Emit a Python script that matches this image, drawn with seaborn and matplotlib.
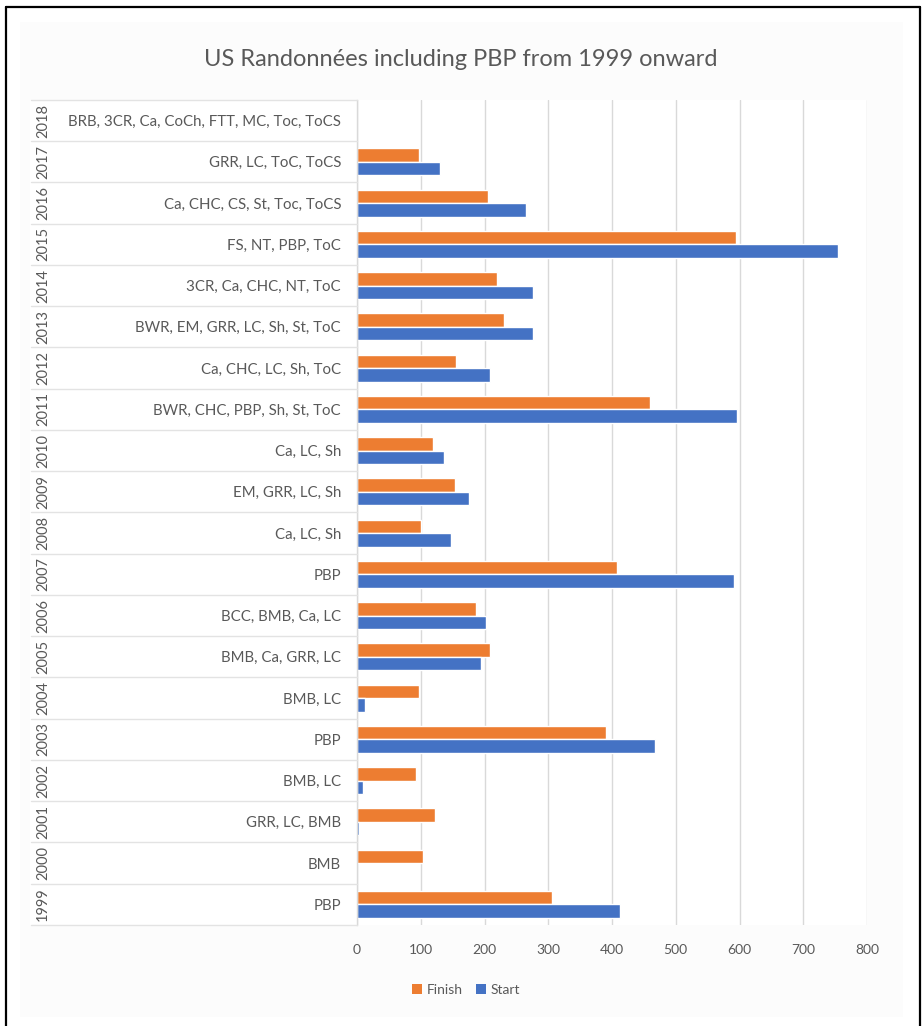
import matplotlib
matplotlib.use("Agg")
import matplotlib.pyplot as plt
from matplotlib.lines import Line2D
from matplotlib.patches import Rectangle, Patch
from matplotlib.transforms import blended_transform_factory
import seaborn as sns
import pandas as pd

# Randonnée seasons, newest first (top of the chart)
years = ["2018", "2017", "2016", "2015", "2014", "2013", "2012", "2011", "2010",
         "2009", "2008", "2007", "2006", "2005", "2004", "2003", "2002", "2001",
         "2000", "1999"]
events = [
    "BRB, 3CR, Ca, CoCh, FTT, MC, Toc, ToCS",
    "GRR, LC, ToC, ToCS",
    "Ca, CHC, CS, St, Toc, ToCS",
    "FS, NT, PBP, ToC",
    "3CR, Ca, CHC, NT, ToC",
    "BWR, EM, GRR, LC, Sh, St, ToC",
    "Ca, CHC, LC, Sh, ToC",
    "BWR, CHC, PBP, Sh, St, ToC",
    "Ca, LC, Sh",
    "EM, GRR, LC, Sh",
    "Ca, LC, Sh",
    "PBP",
    "BCC, BMB, Ca, LC",
    "BMB, Ca, GRR, LC",
    "BMB, LC",
    "PBP",
    "BMB, LC",
    "GRR, LC, BMB",
    "BMB",
    "PBP",
]
finish = [0, 98, 206, 595, 220, 230, 156, 460, 119, 154, 101, 408, 186, 208,
          98, 391, 93, 122, 103, 306]
start = [0, 130, 265, 755, 276, 276, 208, 596, 137, 176, 147, 591, 203, 194,
         13, 467, 10, 3, 0, 412]
series = ["Finish", "Start"]
colors = {"Finish": "#ED7D31", "Start": "#4472C4"}
x_ticks = [0, 100, 200, 300, 400, 500, 600, 700, 800]
title = "US Randonnées including PBP from 1999 onward"

keys = [f"{y}|{e}" for y, e in zip(years, events)]
df = pd.DataFrame({
    "key": keys * 2,
    "series": ["Finish"] * len(keys) + ["Start"] * len(keys),
    "value": finish + start,
})

sns.set_theme(style="white")
plt.rcParams["font.family"] = ["Lato", "DejaVu Sans"]
TXT = "#595959"
GRID = "#D9D9D9"

W, H = 922, 1026
fig = plt.figure(figsize=(W / 100, H / 100), dpi=100)
fig.patch.set_facecolor("white")

# light chart-area panel and outer frame
fig.add_artist(Rectangle((20 / W, 1 - 1017 / H), 883 / W, 995 / H,
                         transform=fig.transFigure, facecolor="#FCFCFC",
                         edgecolor="none", zorder=0))
fig.add_artist(Rectangle((30 / W, 1 - 925 / H), 327 / W, 825 / H,
                         transform=fig.transFigure, facecolor="white",
                         edgecolor="none", zorder=0))
for xs, ys in [([6, 6], [7, 1030]), ([6, 920], [7, 7]), ([920, 920], [7, 1030])]:
    fig.add_artist(Line2D([x / W for x in xs], [1 - y / H for y in ys],
                          transform=fig.transFigure, color="black", lw=1.6,
                          zorder=1))

ax = fig.add_axes([357 / W, 1 - 925 / H, (867 - 357) / W, (925 - 100) / H])
ax.set_facecolor("white")
sns.barplot(data=df, x="value", y="key", hue="series", hue_order=series,
            order=keys, orient="h", palette=colors, width=0.66,
            saturation=1, ax=ax, legend=False, zorder=3)

ax.set_xlim(0, 800)
ax.set_ylim(len(keys) - 0.5, -0.5)
ax.set_xticks(x_ticks)
ax.set_xticklabels([str(t) for t in x_ticks], fontsize=10, color=TXT)
ax.tick_params(axis="x", length=0, pad=14)
ax.set_yticks(range(len(keys)))
ax.set_yticklabels(events, fontsize=10.8, color=TXT)
ax.tick_params(axis="y", length=0, pad=11.5)
ax.set_xlabel("")
ax.set_ylabel("")
ax.grid(axis="x", color=GRID, lw=1, zorder=0)
ax.grid(axis="y", visible=False)
for side in ["top", "right", "bottom"]:
    ax.spines[side].set_visible(False)
ax.spines["left"].set_color(GRID)
ax.spines["left"].set_linewidth(1)
ax.spines["left"].set_zorder(4)

# multi-level category table: row separators and rotated year labels
tr = blended_transform_factory(fig.transFigure, ax.transData)
for i in range(len(keys) + 1):
    fig.add_artist(Line2D([31 / W, 357 / W], [i - 0.5, i - 0.5], transform=tr,
                          color="#E3E3E3", lw=1, zorder=2))
for i, y in enumerate(years):
    fig.text(43 / W, i, y, transform=tr, rotation=90, ha="center",
             va="center", fontsize=10.5, color=TXT)

fig.text(461 / W, 1 - 60 / H, title, ha="center", va="center",
         fontsize=17, color=TXT)

handles = [Patch(facecolor=colors[s], edgecolor="none") for s in series]
fig.legend(handles, series, loc="center", bbox_to_anchor=(466 / W, 1 - 990 / H),
           ncol=2, frameon=False, fontsize=10, labelcolor=TXT,
           handlelength=0.7, handleheight=0.7, handletextpad=0.3,
           columnspacing=1.0)

fig.savefig("out.png", dpi=100)
